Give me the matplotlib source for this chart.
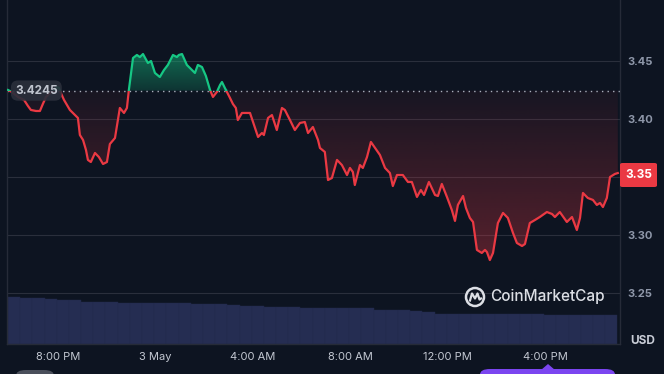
import numpy as np
import matplotlib.pyplot as plt
from matplotlib.patches import Rectangle, FancyBboxPatch, Circle, Polygon

plt.rcParams['font.family'] = ['Inter', 'DejaVu Sans']

# price, hours after 8:00 PM (2 May)
hours = [-2.05, -1.89, -1.64, -1.39, -1.23, -1.11, -0.90, -0.74, -0.62, -0.49,
         -0.33, -0.16, -0.04, 0.04, 0.12, 0.25, 0.49, 0.70, 0.82, 0.90,
         1.03, 1.15, 1.23, 1.35, 1.52, 1.68, 1.85, 2.01, 2.13, 2.34,
         2.54, 2.71, 2.83, 2.91, 3.08, 3.24, 3.36, 3.49, 3.69, 3.82,
         3.98, 4.18, 4.35, 4.51, 4.72, 4.88, 4.96, 5.09, 5.29, 5.50,
         5.62, 5.74, 5.91, 6.07, 6.24, 6.36, 6.52, 6.65, 6.73, 6.85,
         7.06, 7.18, 7.30, 7.38, 7.55, 7.88, 8.21, 8.37, 8.45, 8.62,
         8.78, 8.98, 9.19, 9.31, 9.52, 9.72, 9.93, 10.13, 10.26, 10.46,
         10.67, 10.75, 10.95, 11.08, 11.24, 11.45, 11.65, 11.86, 11.98, 12.10,
         12.18, 12.39, 12.51, 12.68, 12.84, 13.01, 13.21, 13.42, 13.62, 13.74,
         13.91, 14.15, 14.36, 14.52, 14.73, 14.89, 15.02, 15.22, 15.47, 15.59,
         15.75, 15.96, 16.16, 16.29, 16.41, 16.62, 16.74, 16.90, 17.03, 17.19,
         17.39, 17.52, 17.60, 17.72, 17.85, 18.05, 18.26, 18.46, 18.67, 18.83,
         19.04, 19.16, 19.36, 19.57, 19.77, 20.06, 20.27, 20.39, 20.59, 20.88,
         21.09, 21.29, 21.42, 21.54, 21.74, 21.95, 22.11, 22.24, 22.36, 22.52,
         22.65, 22.85, 22.97]
price = [3.4250, 3.4233, 3.4190, 3.4164, 3.4112, 3.4078, 3.4069, 3.4069, 3.4129, 3.4190,
         3.4224, 3.4241, 3.4276, 3.4267, 3.4224, 3.4164, 3.4078, 3.4034, 3.4009, 3.3862,
         3.3819, 3.3733, 3.3647, 3.3629, 3.3707, 3.3672, 3.3612, 3.3629, 3.3784, 3.3836,
         3.4095, 3.4052, 3.4095, 3.4250, 3.4526, 3.4552, 3.4534, 3.4560, 3.4483, 3.4500,
         3.4397, 3.4362, 3.4422, 3.4466, 3.4552, 3.4534, 3.4552, 3.4560, 3.4466, 3.4422,
         3.4397, 3.4466, 3.4448, 3.4371, 3.4250, 3.4190, 3.4233, 3.4293, 3.4319, 3.4267,
         3.4181, 3.4129, 3.4095, 3.3991, 3.4052, 3.4052, 3.3845, 3.3879, 3.3862, 3.4009,
         3.4034, 3.3905, 3.4095, 3.4078, 3.3991, 3.3905, 3.3966, 3.3974, 3.3879, 3.3931,
         3.3819, 3.3750, 3.3716, 3.3474, 3.3491, 3.3647, 3.3603, 3.3517, 3.3578, 3.3543,
         3.3431, 3.3603, 3.3578, 3.3672, 3.3802, 3.3750, 3.3690, 3.3578, 3.3534, 3.3422,
         3.3517, 3.3517, 3.3457, 3.3457, 3.3328, 3.3388, 3.3345, 3.3457, 3.3345, 3.3336,
         3.3440, 3.3328, 3.3216, 3.3121, 3.3259, 3.3336, 3.3233, 3.3147, 3.3112, 3.2871,
         3.2845, 3.2871, 3.2853, 3.2784, 3.2845, 3.3103, 3.3190, 3.3147, 3.3017, 3.2931,
         3.2905, 3.2922, 3.3103, 3.3129, 3.3155, 3.3198, 3.3181, 3.3155, 3.3198, 3.3112,
         3.3155, 3.3043, 3.3147, 3.3362, 3.3319, 3.3302, 3.3259, 3.3276, 3.3241, 3.3319,
         3.3500, 3.3526, 3.3534]
base_price = 3.4245
last_label = "3.35"

# 24h volume (M USD), half-hour bars
vol_hours = [-1.8 + 0.5 * i for i in range(50)]
volume = [235, 232, 230, 225, 222, 218, 212, 210, 208, 205,
          205, 205, 205, 205, 205, 200, 200, 198, 195, 192,
          190, 187, 187, 187, 182, 178, 178, 178, 178, 178,
          170, 170, 170, 165, 160, 150, 150, 150, 150, 150,
          150, 150, 150, 150, 145, 145, 145, 145, 145, 145]

tick_hours = [0, 4, 8, 12, 16, 20]
tick_labels = ['8:00 PM', '3 May', '4:00 AM', '8:00 AM', '12:00 PM', '4:00 PM']
price_ticks = [3.25, 3.30, 3.35, 3.40, 3.45]

bg = '#0d1421'
red = '#ea3943'
green = '#16c784'
W, H = 664, 374


def px(x, y):
    return x / W, 1 - y / H


fig = plt.figure(figsize=(6.64, 3.74), dpi=100, facecolor=bg)
rect = [7 / W, 30 / H, 613 / W, 344 / H]
xlim = (-2.09, 23.06)
ylim = (3.2060, 3.5026)

# volume underneath
vax = fig.add_axes(rect)
vax.set_facecolor(bg)
vax.bar(vol_hours, volume, width=0.5, color='#252d52', edgecolor='#222a4c', linewidth=0.3)
vax.set_xlim(*xlim)
vax.set_ylim(0, 1720)
vax.axis('off')

ax = fig.add_axes(rect)
ax.set_facecolor('none')
t = np.array(hours)
p = np.array(price)


def grad_fill(lower, upper, color, y0, y1, a0, a1):
    poly = ax.fill_between(t, lower, upper, color='none', lw=0)
    path = poly.get_paths()[0]
    img = np.zeros((256, 1, 4))
    img[:, 0, :3] = plt.matplotlib.colors.to_rgb(color)
    img[:, 0, 3] = np.linspace(a0, a1, 256)
    im = ax.imshow(img, extent=[t[0], t[-1], y0, y1], origin='lower',
                   aspect='auto', interpolation='bilinear', zorder=1)
    im.set_clip_path(path, transform=ax.transData)


grad_fill(np.minimum(p, base_price), base_price, red, 3.275, base_price, 0.34, 0.05)
grad_fill(base_price, np.maximum(p, base_price), green, base_price, 3.458, 0.18, 0.5)

ax.axhline(base_price, color='#aab0bd', lw=1, ls=(0, (1, 3)), zorder=2)

lg, = ax.plot(t, p, color=green, lw=1.6, zorder=4, solid_joinstyle='round')
lr, = ax.plot(t, p, color=red, lw=1.6, zorder=4, solid_joinstyle='round')
lg.set_clip_path(Rectangle((xlim[0], base_price), 30, 1, transform=ax.transData))
lr.set_clip_path(Rectangle((xlim[0], 3.0), 30, base_price - 3.0, transform=ax.transData))

ax.set_xlim(*xlim)
ax.set_ylim(*ylim)
ax.set_xticks(tick_hours, tick_labels)
# the 3.35 tick sits under the last-price tag
ax.set_yticks(price_ticks, ['' if v == 3.35 else f'{v:.2f}' for v in price_ticks])
ax.yaxis.tick_right()
ax.tick_params(axis='x', length=0, pad=6, labelcolor='#c3c8d2', labelsize=8)
ax.tick_params(axis='y', length=0, pad=5, labelcolor='#8d96a8', labelsize=8)
for lab in ax.get_yticklabels():
    lab.set_fontweight('bold')
ax.yaxis.grid(True, color='#2a2f3c', lw=0.8)
ax.set_axisbelow(True)
for s in ['left', 'right', 'bottom']:
    ax.spines[s].set_color('#262b38')
    ax.spines[s].set_linewidth(1)
ax.spines['top'].set_visible(False)

# current value label on the left
ax.text(-1.76, base_price, f'{base_price:.4f}', va='center', ha='left', fontsize=8.5,
        fontweight='bold', color='#bfc4ce', zorder=6,
        bbox=dict(boxstyle='round,pad=0.35,rounding_size=0.6', fc='#2a2f3b', ec='none', alpha=0.92))

# last price tag on the right
fig.patches.append(FancyBboxPatch(px(620, 187), 37 / W, 24 / H,
                                  boxstyle='round,pad=0,rounding_size=0.004',
                                  fc=red, ec='none', transform=fig.transFigure))
fig.text(*px(639, 175), last_label, ha='center', va='center', fontsize=8.5,
         fontweight='bold', color='white')
fig.text(*px(643, 341), 'USD', ha='center', va='center', fontsize=8.5,
         fontweight='bold', color='#c8ccd6')

# watermark
fig.text(*px(490, 297), 'CoinMarketCap', ha='left', va='center', fontsize=11,
         fontweight='medium', color='#dcdfe5')
lax = fig.add_axes([464 / W, (374 - 308) / H, 22 / W, 22 / H])
lax.set_xlim(-1.1, 1.1)
lax.set_ylim(-1.1, 1.1)
lax.set_aspect('equal')
lax.axis('off')
lax.add_patch(Circle((0, 0), 0.9, fill=False, ec='#dcdfe5', lw=1.8))
lax.plot([-0.5, -0.3, 0.0, 0.25, 0.45, 0.6], [-0.35, 0.35, -0.15, 0.35, -0.25, -0.15],
         color='#dcdfe5', lw=1.6)

# cut-off controls at the bottom
fig.patches.append(FancyBboxPatch(px(16, 390), 38 / W, 20 / H,
                                  boxstyle='round,pad=0,rounding_size=0.015',
                                  fc='#4a4f5b', ec='none', transform=fig.transFigure))
fig.patches.append(FancyBboxPatch(px(480, 392), 135 / W, 23 / H,
                                  boxstyle='round,pad=0,rounding_size=0.015',
                                  fc='#7b45f0', ec='none', transform=fig.transFigure))
fig.patches.append(Polygon([px(541, 370), px(548, 364), px(555, 370)], closed=True,
                           fc='#7b45f0', ec='none', transform=fig.transFigure))

fig.savefig('out.png', dpi=100, facecolor=bg)
